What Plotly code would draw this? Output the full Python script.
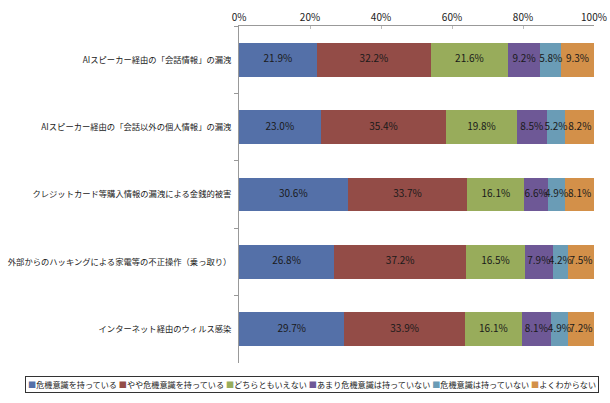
import plotly.graph_objects as go

categories = [
    "AIスピーカー経由の「会話情報」の漏洩",
    "AIスピーカー経由の「会話以外の個人情報」の漏洩",
    "クレジットカード等購入情報の漏洩による金銭的被害",
    "外部からのハッキングによる家電等の不正操作（乗っ取り）",
    "インターネット経由のウィルス感染",
]
series_names = [
    "危機意識を持っている",
    "やや危機意識を持っている",
    "どちらともいえない",
    "あまり危機意識は持っていない",
    "危機意識は持っていない",
    "よくわからない",
]
values = [
    [21.9, 23.0, 30.6, 26.8, 29.7],
    [32.2, 35.4, 33.7, 37.2, 33.9],
    [21.6, 19.8, 16.1, 16.5, 16.1],
    [9.2, 8.5, 6.6, 7.9, 8.1],
    [5.8, 5.2, 4.9, 4.2, 4.9],
    [9.3, 8.2, 8.1, 7.5, 7.2],
]
colors = ["#5470A8", "#934C47", "#98AC5B", "#6E5896", "#6A9CB6", "#D39049"]
tick_vals = [0, 20, 40, 60, 80, 100]
tick_text = ["0%", "20%", "40%", "60%", "80%", "100%"]

FONT = "Noto Sans CJK JP"

fig = go.Figure()
base = [0.0] * len(categories)
for name, vals, col in zip(series_names, values, colors):
    fig.add_trace(go.Bar(
        y=categories, x=vals, name=name, orientation="h",
        marker=dict(color=col, line=dict(width=0)),
        showlegend=False, hoverinfo="x+name",
    ))
    mids = [b + v / 2 for b, v in zip(base, vals)]
    fig.add_trace(go.Scatter(
        x=mids, y=categories, mode="text",
        text=[f"{v:.1f}%" for v in vals],
        textposition="middle center",
        textfont=dict(family=FONT, size=10, color="#1a1a1a"),
        showlegend=False, hoverinfo="skip", cliponaxis=False,
    ))
    base = [b + v for b, v in zip(base, vals)]

# legend drawn as a bordered annotation in one row
legend_text = " ".join(
    f"<span style='color:{c}'>■</span>{n}"
    for n, c in zip(series_names, colors)
)

L, R, T, B = 239, 16, 26, 40
W, H = 610, 403
pw, ph = W - L - R, H - T - B

fig.add_annotation(
    text=legend_text, xref="paper", yref="paper",
    x=(25 - L) / pw, y=-(384 - (H - B)) / ph,
    xanchor="left", yanchor="middle", showarrow=False,
    font=dict(family=FONT, size=8.15, color="#222"),
    bordercolor="#333", borderwidth=1, borderpad=2, bgcolor="white", align="left",
)

fig.update_layout(
    barmode="stack", bargap=0.5,
    width=W, height=H,
    margin=dict(l=L, r=R, t=T, b=B, autoexpand=False),
    paper_bgcolor="white", plot_bgcolor="white",
    font=dict(family=FONT, size=10, color="#222"),
    showlegend=False,
)
fig.update_xaxes(
    side="top", range=[0, 100], tickvals=tick_vals, ticktext=tick_text,
    showgrid=False, zeroline=False, showline=True, linecolor="#999", linewidth=1,
    ticks="inside", ticklen=3, tickcolor="#bbb", automargin=False,
    tickfont=dict(family=FONT, size=10, color="#222"),
)
fig.update_yaxes(
    autorange="reversed", showgrid=False, showline=True, linecolor="#999", linewidth=1,
    ticks="outside", ticklen=4, tickcolor="#999", tickson="boundaries",
    tickfont=dict(family=FONT, size=8.3, color="#222"), ticklabelstandoff=5,
    automargin=False,
)

fig.write_html("out.html")
